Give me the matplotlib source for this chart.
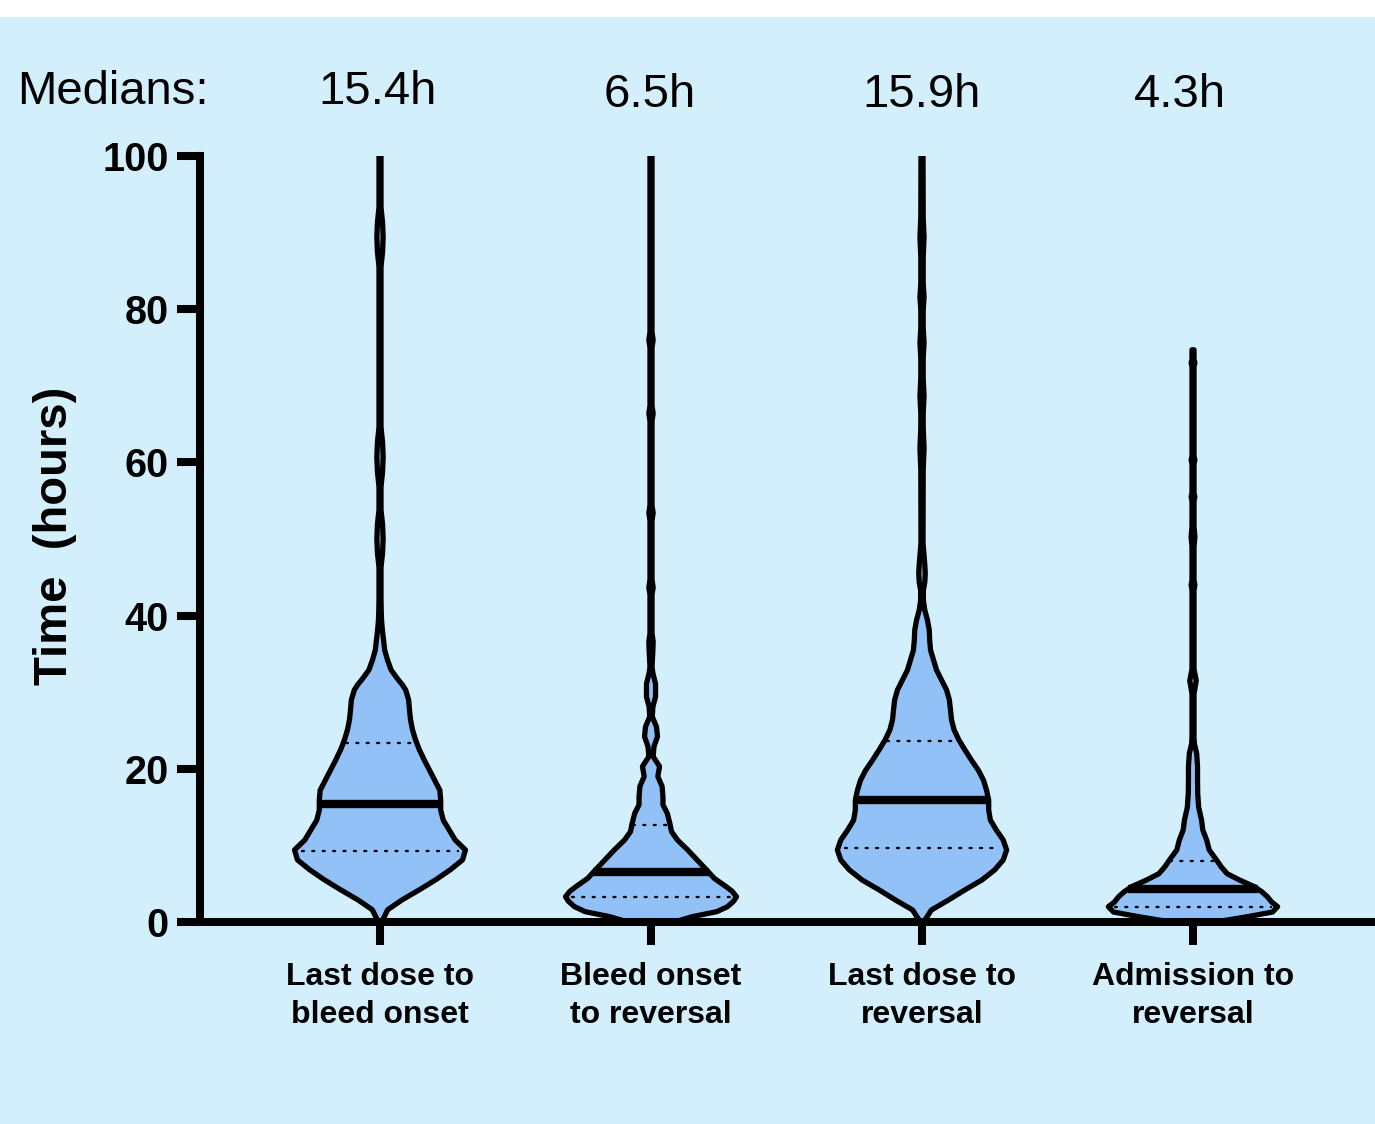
import numpy as np
import matplotlib
matplotlib.use("Agg")
import matplotlib.pyplot as plt
from matplotlib.patches import Rectangle

plt.rcParams['font.family'] = ['Liberation Sans', 'DejaVu Sans']

# ---------------- data ----------------
categories = ["Last dose to\nbleed onset", "Bleed onset\nto reversal",
              "Last dose to\nreversal", "Admission to\nreversal"]
medians = [15.4, 6.5, 15.9, 4.3]
q1 = [9.3, 3.3, 9.6, 2.0]
q3 = [23.4, 12.7, 23.6, 7.9]
y_ticks = [0, 20, 40, 60, 80, 100]

# density profiles: y (hours) and width relative to widest point
v1_y = [0, 1.6, 2.9, 4.2, 5.5, 6.8, 8.1, 9.4, 10.7, 12.0, 13.3, 14.6, 15.9, 17.2,
        18.5, 19.8, 21.1, 22.5, 23.8, 25.1, 26.4, 27.7, 29.0, 30.3, 31.0, 31.6, 32.9,
        34.2, 35.5, 36.8, 38.1, 39.4, 40.7, 42.0,
        46.3, 48.2, 50.0, 51.9, 53.8, 56.8, 58.8, 60.7, 62.6, 64.6,
        85.5, 87.5, 89.4, 91.3, 93.3, 100]
v1_w = [0.02, 0.09, 0.26, 0.46, 0.65, 0.82, 0.965, 1.0, 0.88, 0.81, 0.74, 0.71, 0.71, 0.70,
        0.64, 0.58, 0.52, 0.46, 0.415, 0.38, 0.357, 0.345, 0.335, 0.30, 0.26, 0.215, 0.13,
        0.088, 0.055, 0.042, 0.028, 0.018, 0.014, 0.012,
        0.012, 0.03, 0.037, 0.03, 0.012, 0.012, 0.03, 0.037, 0.03, 0.012,
        0.012, 0.03, 0.037, 0.03, 0.012, 0.012]

v2_y = [0, 0.7, 1.35, 2.0, 2.7, 3.3, 4.0, 4.6, 5.7, 6.8, 8.1, 9.4, 10.7, 11.8, 12.9,
        14.2, 15.3, 16.3, 17.7, 19.0, 20.3, 21.6, 22.9, 24.2, 25.5, 26.8, 28.1, 29.4,
        31.1, 32.5, 33.3, 35.5, 36.6, 37.7, 42.7, 43.7, 44.7, 52.4, 53.4, 54.4,
        65.4, 66.4, 67.4, 75.0, 76.0, 77.0, 100]
v2_w = [0.27, 0.485, 0.77, 0.895, 0.965, 1.0, 0.95, 0.88, 0.74, 0.65, 0.54, 0.43, 0.31, 0.24, 0.22,
        0.19, 0.14, 0.14, 0.13, 0.08, 0.10, 0.025, 0.035, 0.076, 0.064, 0.015, 0.022, 0.053,
        0.053, 0.022, 0.012, 0.022, 0.025, 0.012, 0.012, 0.025, 0.012, 0.012, 0.025, 0.012,
        0.012, 0.025, 0.012, 0.012, 0.025, 0.012, 0.012]

v3_y = [0, 1.57, 2.87, 4.18, 5.48, 6.8, 8.1, 9.4, 10.7, 12.0, 13.3, 14.6, 15.9, 17.2,
        18.5, 19.8, 21.1, 22.5, 23.8, 25.1, 26.4, 27.7, 29.0, 30.3, 31.6, 32.9, 34.2,
        35.5, 36.8, 38.1, 39.4, 40.7, 42.0, 43.3, 44.4, 45.5, 46.6, 49.5,
        59.0, 61.8, 64.6, 66.4, 68.7, 71.0, 73.7, 75.6, 77.6, 79.9, 81.6, 83.4,
        86.8, 89.4, 92.0, 100]
v3_w = [0.02, 0.11, 0.31, 0.50, 0.70, 0.85, 0.95, 0.99, 0.95, 0.87, 0.80, 0.78, 0.78, 0.755,
        0.72, 0.66, 0.58, 0.50, 0.43, 0.375, 0.345, 0.333, 0.32, 0.287, 0.228, 0.17, 0.135,
        0.10, 0.09, 0.085, 0.064, 0.033, 0.016, 0.016, 0.033, 0.038, 0.033, 0.012,
        0.014, 0.024, 0.014, 0.014, 0.024, 0.014, 0.014, 0.024, 0.014, 0.014, 0.024, 0.014,
        0.014, 0.024, 0.014, 0.012]

v4_y = [0, 0.7, 1.3, 2.0, 2.6, 3.3, 3.9, 4.6, 5.5, 6.3, 7.2, 8.1, 9.4, 10.7, 12.0,
        13.3, 15.0, 16.8, 18.5, 20.3, 22.0, 23.3, 24.0, 29.8, 31.5, 33.0,
        43.3, 44.0, 44.6, 49.0, 50.3, 51.6, 55.0, 55.5, 56.0, 59.8, 60.3, 60.8,
        72.5, 73.0, 73.4, 74.7]
v4_w = [0.26, 0.64, 0.93, 0.99, 0.92, 0.87, 0.81, 0.72, 0.54, 0.40, 0.33, 0.275, 0.19, 0.16, 0.115,
        0.10, 0.066, 0.055, 0.053, 0.053, 0.043, 0.016, 0.012, 0.012, 0.038, 0.012,
        0.012, 0.022, 0.012, 0.012, 0.022, 0.012, 0.012, 0.022, 0.012, 0.012, 0.022, 0.012,
        0.012, 0.022, 0.012, 0.012]

prof_y = [v1_y, v2_y, v3_y, v4_y]
prof_w = [v1_w, v2_w, v3_w, v4_w]

# ---------------- style ----------------
BG = '#D4EFFC'
FILL = '#92C1F7'
MAXW = 0.3155          # half-width of widest point (category units)
W, H = 1375, 1124

fig = plt.figure(figsize=(W / 100, H / 100), dpi=100, facecolor=BG)
fig.patches.append(Rectangle((0, 1 - 17 / H), 1, 17 / H, transform=fig.transFigure,
                             facecolor='white', edgecolor='none', zorder=0))

ax = fig.add_axes([200 / W, 1 - 922 / H, 1 - 200 / W, (922 - 156) / H])
ax.set_facecolor('none')
ax.set_xlim(-180 / 271, (W - 380) / 271)
ax.set_ylim(0, 100)

for i in range(4):
    y = np.array(prof_y[i], dtype=float)
    w = np.array(prof_w[i], dtype=float) * MAXW
    ax.fill_betweenx(y, i - w, i + w, color=FILL, lw=0, zorder=1)
    wm = np.interp(medians[i], y, w)
    ax.plot([i - wm, i + wm], [medians[i]] * 2, color='k', lw=6,
            solid_capstyle='butt', zorder=2)
    for q in (q1[i], q3[i]):
        wq = np.interp(q, y, w) * 0.92
        ax.plot([i - wq, i + wq], [q, q], color='k', lw=1.7,
                linestyle=(0, (0.8, 3.6)), dash_capstyle='round', zorder=2)
    xs = np.concatenate([i - w, (i + w)[::-1]])
    ys = np.concatenate([y, y[::-1]])
    ax.plot(xs, ys, color='k', lw=3.8, solid_joinstyle='round',
            solid_capstyle='round', zorder=3)

for s in ('top', 'right'):
    ax.spines[s].set_visible(False)
for s in ('left', 'bottom'):
    ax.spines[s].set_linewidth(5.8)
    ax.spines[s].set_zorder(5)
    ax.spines[s].set_capstyle('projecting')

ax.set_yticks(y_ticks)
ax.set_yticklabels([str(t) for t in y_ticks], fontsize=28.5, fontweight='bold')
ax.set_xticks(range(4))
ax.set_xticklabels(categories, fontsize=23, fontweight='bold', linespacing=1.38)
ax.tick_params(axis='both', direction='out', length=16.5, width=5.8, color='k')
ax.tick_params(axis='y', pad=6)
ax.tick_params(axis='x', pad=12)

fig.text(55 / W, 1 - 536 / H, "Time  (hours)", rotation=90, ha='center', va='center',
         fontsize=34, fontweight='bold')

# header
fig.text(17 / W, 1 - 104 / H, "Medians:", ha='left', va='baseline', fontsize=34)
header_x = [378, 650, 922, 1180]
header_base = [104, 107, 107, 107]
for m, hx, hb in zip(medians, header_x, header_base):
    fig.text(hx / W, 1 - hb / H, f"{m}h", ha='center', va='baseline', fontsize=34)

fig.savefig('out.png', dpi=100, facecolor=BG)
